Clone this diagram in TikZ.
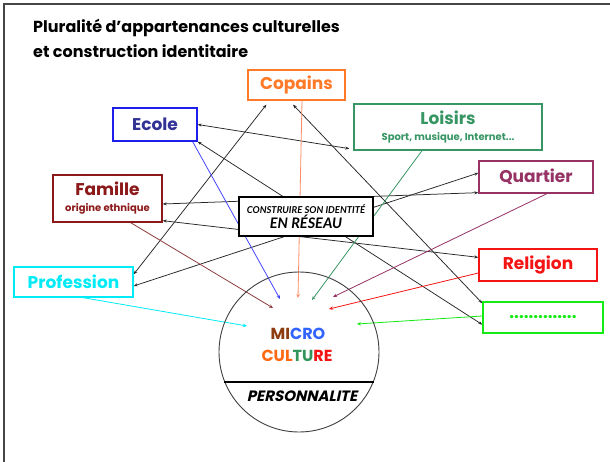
\documentclass[tikz,border=0pt]{standalone}
\usepackage{fontspec}
\setmainfont{Poppins}
\newfontfamily\latof{Lato}
\newfontfamily\slantpop{Poppins}[FakeSlant=0.22]
\usetikzlibrary{arrows.meta,calc}
\definecolor{cop}{RGB}{255,122,40}
\definecolor{copl}{RGB}{255,140,100}
\definecolor{ecb}{RGB}{30,30,235}
\definecolor{ect}{RGB}{50,50,150}
\definecolor{ecl}{RGB}{70,70,255}
\definecolor{loi}{RGB}{55,150,100}
\definecolor{qua}{RGB}{150,50,100}
\definecolor{fam}{RGB}{140,25,25}
\definecolor{faml}{RGB}{140,60,60}
\definecolor{pro}{RGB}{0,235,245}
\definecolor{rel}{RGB}{245,20,20}
\definecolor{dotg}{RGB}{20,235,20}
\definecolor{brn}{RGB}{140,60,15}
\definecolor{cblu}{RGB}{50,100,255}
\definecolor{corg}{RGB}{255,105,20}
\definecolor{cgrn}{RGB}{50,150,90}
\definecolor{frame}{RGB}{70,70,70}
\pgfdeclarelayer{back}
\pgfdeclarelayer{lines}
\pgfsetlayers{back,lines,main}
\begin{document}
\begin{tikzpicture}[x=1pt,y=-1pt,
  box/.style={draw, line width=1.3pt, fill=white, inner sep=0pt, align=center,
    font=\bfseries\fontsize{17}{19}\selectfont},
  blk/.style={draw=black!85, line width=0.75pt, {Stealth[length=4pt,width=3pt]}-{Stealth[length=4pt,width=3pt]}},
  col/.style={line width=0.8pt, -{Stealth[length=4pt,width=3.5pt]}}
]
\begin{pgfonlayer}{back}
\fill[white] (0,0) rectangle (610,462);
\end{pgfonlayer}
\useasboundingbox (0,0) rectangle (610,462);
\draw[line width=2pt, frame] (4,462) -- (4,4) -- (610,4);

\node[anchor=west, align=left, inner sep=0pt,
  font=\bfseries\fontsize{16}{25}\selectfont] (title) at (33,38)
  {Pluralité d’appartenances culturelles\\et construction identitaire};

\node[box, draw=cop, text=cop, minimum width=97pt, minimum height=30pt] (copains) at (296.5,85) {Copains};
\node[box, draw=ecb, text=ect, minimum width=84pt, minimum height=33pt] (ecole) at (155,124.5) {Ecole};
\node[box, draw=loi, text=loi, minimum width=188pt, minimum height=46pt] (loisirs) at (448,127)
  {Loisirs\\[-3pt]{\fontsize{10}{11}\selectfont Sport, musique, Internet...}};
\node[box, draw=qua, text=qua, minimum width=114pt, minimum height=32pt] (quartier) at (536,177) {Quartier};
\node[box, draw=fam, text=fam, minimum width=109pt, minimum height=47pt] (famille) at (107.5,198.5)
  {Famille\\[-3pt]{\fontsize{10}{11}\selectfont origine ethnique}};
\node[box, draw=black, line width=1.8pt, minimum width=134pt, minimum height=39pt,
  font=\latof\bfseries\itshape] (centre) at (306,216.5)
  {{\fontsize{9.5}{10}\selectfont CONSTRUIRE SON IDENTITÉ}\\[1pt]{\fontsize{14.5}{15}\selectfont EN RÉSEAU}};
\node[box, draw=pro, text=pro, minimum width=119pt, minimum height=30pt] (profession) at (73.5,282) {Profession};
\node[box, draw=rel, text=rel, minimum width=118pt, minimum height=32pt] (religion) at (538,265) {Religion};
\node[box, draw=dotg, text=dotg, minimum width=120pt, minimum height=31pt] (dots) at (543,317.5)
  {\raisebox{-3pt}{..............}};

\node[circle, draw=black!75, line width=0.9pt, minimum size=160pt, inner sep=0pt] (mc) at (299,352) {};
\draw[line width=1.6pt] (mc.202.8) -- (mc.-22.8);
\node[font=\bfseries\fontsize{16}{18}\selectfont, inner sep=0pt] (micro) at (298,334)
  {\textcolor{brn}{MI}\textcolor{cblu}{CRO}};
\node[font=\bfseries\fontsize{16}{18}\selectfont, inner sep=0pt] (culture) at (297,356)
  {\textcolor{corg}{CUL}\textcolor{cgrn}{TU}\textcolor{rel}{RE}};
\node[font=\slantpop\bfseries\fontsize{15}{17}\selectfont, inner sep=0pt] (perso) at (302,396) {PERSONNALITE};

\begin{pgfonlayer}{lines}
% black double-headed links
\draw[blk] (ecole.east) -- ([yshift=2pt,xshift=-4pt]loisirs.south west);
\draw[blk] (ecole.south east) -- ([yshift=9pt]dots.south west);
\draw[blk] ([xshift=19pt,yshift=-4pt]copains.south west) -- ([yshift=-8pt]profession.north east);
\draw[blk] ([xshift=-3.5pt,yshift=-4pt]copains.south) -- ([yshift=-2pt]dots.north west);
\draw[blk] ([yshift=-5.5pt]famille.east) -- ([yshift=1pt]quartier.south west);
\draw[blk] ([yshift=2pt]famille.south east) -- ([yshift=-9pt]religion.north west);
\draw[blk] ([yshift=-4pt]profession.east) -- ([yshift=4pt]quartier.west);
% coloured links into the circle
\draw[col, ecl] ([xshift=-5pt]ecole.south east) -- ($(mc.center)+(-19,-53)$);
\draw[col, copl] ([xshift=5.5pt]copains.south) -- ($(mc.center)+(-1,-54)$);
\draw[col, loi] ([xshift=-26pt]loisirs.south) -- ($(mc.center)+(13,-52)$);
\draw[col, faml] ([xshift=-32pt]famille.south east) -- ($(mc.center)+(-26,-44)$);
\draw[col, qua] ([xshift=11pt]quartier.south) -- ($(mc.center)+(34,-55)$);
\draw[col, rel] ([yshift=-8pt]religion.west) -- ($(mc.center)+(30,-43)$);
\draw[col, pro] ([xshift=9.5pt]profession.south) -- ($(mc.center)+(-52,-26)$);
\draw[col, dotg] ([yshift=1.5pt]dots.west) -- ($(mc.center)+(58,-28)$);
\end{pgfonlayer}
\end{tikzpicture}
\end{document}
